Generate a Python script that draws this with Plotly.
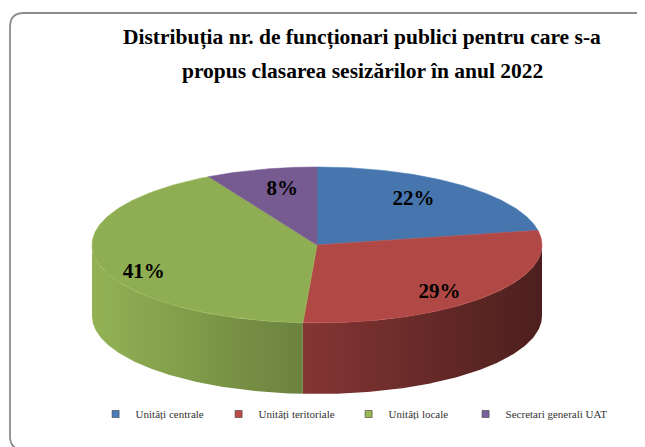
import numpy as np
import plotly.graph_objects as go

# ---------------- data ----------------
categories = ["Unități centrale", "Unități teritoriale", "Unități locale", "Secretari generali UAT"]
values = [22, 29, 41, 8]
label_texts = ["22%", "29%", "41%", "8%"]
title_lines = ["Distribuția nr. de funcționari publici pentru care s-a",
               "propus clasarea sesizărilor în anul 2022"]

# ---------------- styles / geometry ----------------
top_colors = ["#4676AD", "#B04845", "#8FAD52", "#755B90"]
legend_colors = ["#4A7EBB", "#BE4B48", "#98B954", "#7D60A0"]
W, H = 645, 447          # window size
OFF = 8                  # page body margin of the html page
CX, CY, RX, RY, DEPTH = 317, 245, 225, 78, 71
START_ANGLE = 90
LABEL_ANGLE_SHIFT = [3, -7, 12.5, -2]
LABEL_R = [0.72, 0.82, 0.85, 0.72]
LEGEND_SYMBOL_X = [116, 239, 369, 486]   # on-screen px of each legend square
LEGEND_Y = 414
SERIF = "Liberation Serif, Times New Roman, serif"


def hex_to_rgb(h):
    h = h.lstrip("#")
    return tuple(int(h[i:i + 2], 16) for i in (0, 2, 4))


def shade(h, f):
    r, g, b = hex_to_rgb(h)
    return "rgb(%d,%d,%d)" % tuple(max(0, min(255, int(round(c * f)))) for c in (r, g, b))


def side_factor(x):
    # lighter on the left of the cylinder, darker on the right
    return 1.03 - 0.60 * (x - (CX - RX)) / (2 * RX)


def ell(t_deg):
    t = np.radians(t_deg)
    return CX + RX * np.cos(t), CY - RY * np.sin(t)


fig = go.Figure()

total = float(sum(values))
angles = []
cum = 0.0
for v in values:
    a0 = START_ANGLE - 360.0 * cum / total
    a1 = START_ANGLE - 360.0 * (cum + v) / total
    angles.append((a0, a1))
    cum += v

# side faces (front half: angles between -180 and 0)
for (a0, a1), col in zip(angles, top_colors):
    hi = min(a0, 0.0)
    lo = max(a1, -180.0)
    if hi <= lo:
        continue
    ts = np.linspace(hi, lo, 120)
    xt, yt = ell(ts)
    xb, yb = ell(ts[::-1])
    yb = yb + DEPTH
    xs = np.concatenate([xt, xb, xt[:1]])
    ys = np.concatenate([yt, yb, yt[:1]])
    xmin, xmax = float(xs.min()), float(xs.max())
    stops = np.linspace(0, 1, 6)
    cs = [[float(s), shade(col, side_factor(xmin + s * (xmax - xmin)))] for s in stops]
    fig.add_trace(go.Scatter(
        x=xs, y=ys, mode="lines", fill="toself", line=dict(width=0),
        fillgradient=dict(type="horizontal", colorscale=cs, start=xmin, stop=xmax),
        hoverinfo="skip", showlegend=False))

# top slices
for (a0, a1), col, cat, v in zip(angles, top_colors, categories, values):
    ts = np.linspace(a0, a1, 150)
    xa, ya = ell(ts)
    xs = np.concatenate([[CX], xa, [CX]])
    ys = np.concatenate([[CY], ya, [CY]])
    fig.add_trace(go.Scatter(
        x=xs, y=ys, mode="lines", fill="toself", fillcolor=col,
        line=dict(width=0.6, color=shade(col, 1.08)),
        name=cat, text=cat, hoverinfo="text", showlegend=False))

# percentage labels
lx, ly = [], []
for (a0, a1), sh, r in zip(angles, LABEL_ANGLE_SHIFT, LABEL_R):
    mid = np.radians((a0 + a1) / 2 + sh)
    lx.append(CX + r * RX * np.cos(mid))
    ly.append(CY - r * RY * np.sin(mid))
fig.add_trace(go.Scatter(
    x=lx, y=ly, mode="text", text=label_texts,
    textfont=dict(family=SERIF, size=21, color="#000000", weight="bold"),
    hoverinfo="skip", showlegend=False))

FW, FH = W - OFF, H - OFF

# legend entries (one small legend per entry, to reproduce the spacing)
legend_layouts = {}
for i, (cat, col, sx) in enumerate(zip(categories, legend_colors, LEGEND_SYMBOL_X)):
    lname = "legend" if i == 0 else "legend%d" % (i + 1)
    fig.add_trace(go.Scatter(
        x=[-100], y=[-100], mode="markers", name=cat, legend=lname,
        marker=dict(symbol="square", size=7, color=col, line=dict(color="#3a3a3a", width=0.6)),
        hoverinfo="skip"))
    legend_layouts[lname] = dict(
        orientation="h", x=(sx - OFF - 20.4) / FW, y=(H - LEGEND_Y) / FH,
        xanchor="left", yanchor="middle",
        font=dict(family=SERIF, size=11, color="#333333"),
        itemwidth=30, bgcolor="rgba(0,0,0,0)")

# frame (rounded rectangle)
fig.add_shape(type="path", xref="x", yref="y",
              path="M 660 13 L 24 13 Q 10 13 10 27 L 10 436 Q 10 450 24 450",
              line=dict(color="#8C8C8C", width=1.8))

# title
for i, line in enumerate(title_lines):
    fig.add_annotation(x=362, y=37 + 34 * i, xref="x", yref="y", text=line, showarrow=False,
                       xanchor="center", yanchor="middle",
                       font=dict(family=SERIF, size=21.5, color="#000000", weight="bold"))

fig.update_layout(
    width=FW, height=FH, margin=dict(l=0, r=0, t=0, b=0),
    paper_bgcolor="white", plot_bgcolor="white",
    xaxis=dict(range=[OFF, W], visible=False, fixedrange=True),
    yaxis=dict(range=[H, OFF], visible=False, fixedrange=True),
    **legend_layouts,
)

fig.write_html("out.html")
